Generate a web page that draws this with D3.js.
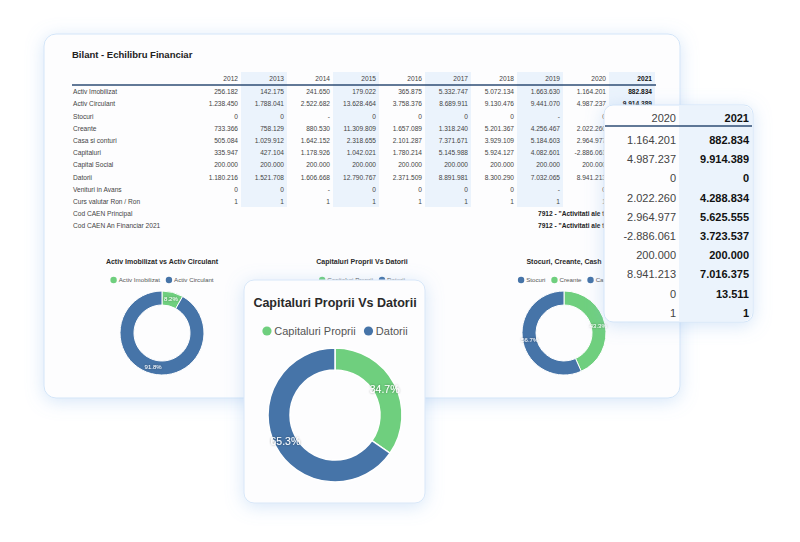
<!DOCTYPE html>
<html>
<head>
<meta charset="utf-8">
<script src="https://cdn.jsdelivr.net/npm/d3@7"></script>
<style>
html, body { margin: 0; padding: 0; background: #fff; }
svg { display: block; font-family: "Liberation Sans", Arial, sans-serif; }
</style>
</head>
<body>
<svg id="chart" width="800" height="542"></svg>
<script>
"use strict";

// == DATA ==
var years = ["2012", "2013", "2014", "2015", "2016", "2017", "2018", "2019", "2020", "2021"];
var rowLabels = ["Activ Imobilizat", "Activ Circulant", "Stocuri", "Creante", "Casa si conturi",
	"Capitaluri", "Capital Social", "Datorii", "Venituri in Avans", "Curs valutar Ron / Ron",
	"Cod CAEN Principal", "Cod CAEN An Financiar 2021"];
var activImobilizat = [256182, 142175, 241650, 179022, 365875, 5332747, 5072134, 1663630, 1164201, 882834];
var activCirculant = [1238450, 1788041, 2522682, 13628464, 3758376, 8689911, 9130476, 9441070, 4987237, 9914389];
var stocuri = [0, 0, null, 0, 0, 0, 0, null, 0, 0]; // null = "-"
var creante = [733366, 758129, 880530, 11309809, 1657089, 1318240, 5201367, 4256467, 2022260, 4288834];
var casaConturi = [505084, 1029912, 1642152, 2318655, 2101287, 7371671, 3929109, 5184603, 2964977, 5625555];
var capitaluri = [335947, 427104, 1178926, 1042021, 1780214, 5145988, 5924127, 4082601, -2886061, 3723537];
var capitalSocial = [200000, 200000, 200000, 200000, 200000, 200000, 200000, 200000, 200000, 200000];
var datorii = [1180216, 1521708, 1606668, 12790767, 2371509, 8891981, 8300290, 7032065, 8941213, 7016375];
var venituriAvans = [0, 0, null, 0, 0, 0, 0, null, 0, 13511];
var cursValutar = [1, 1, 1, 1, 1, 1, 1, 1, 1, 1];
var codCaen = '7912 - "Activitati ale t'; // cut off by the zoom card in the picture

var tableRows = [activImobilizat, activCirculant, stocuri, creante, casaConturi,
	capitaluri, capitalSocial, datorii, venituriAvans, cursValutar];

var green = "#6fcf7e", blue = "#4674a8";

var ro = d3.formatLocale({ decimal: ",", thousands: ".", grouping: [3], currency: ["", ""], minus: "-" });
var fmt = function (v) { return v === null ? "-" : ro.format(",d")(v); };

var svg = d3.select("#chart");
var defs = svg.append("defs");

// soft blue glow for the cards
var f = defs.append("filter").attr("id", "glow").attr("x", "-20%").attr("y", "-20%").attr("width", "140%").attr("height", "140%");
f.append("feDropShadow").attr("dx", 0).attr("dy", 3).attr("stdDeviation", 9)
	.attr("flood-color", "#7fb0ea").attr("flood-opacity", 0.32);
var ts = defs.append("filter").attr("id", "tshadow");
ts.append("feDropShadow").attr("dx", 0).attr("dy", 0).attr("stdDeviation", 0.8)
	.attr("flood-color", "#000").attr("flood-opacity", 0.45);

// the zoom card on the right hides part of the main table
defs.append("clipPath").attr("id", "under-card").append("path")
	.attr("d", "M0,0 H800 V105 H604 V542 H0 Z");

// == MAIN CARD ==
svg.append("rect").attr("x", 44).attr("y", 34).attr("width", 636).attr("height", 364)
	.attr("rx", 12).attr("fill", "#fdfdfe").attr("stroke", "#d3e5f8").attr("filter", "url(#glow)");

svg.append("text").attr("x", 72).attr("y", 55).attr("dy", "0.35em")
	.attr("font-size", 9.5).attr("font-weight", "bold").attr("fill", "#222")
	.text("Bilant - Echilibru Financiar");

var x = d3.scaleBand().domain(years).range([195, 655]);
var y = d3.scalePoint().domain(rowLabels).range([92, 226]);

var table = svg.append("g").attr("font-size", 6.6).attr("fill", "#444")
	.attr("clip-path", "url(#under-card)");

// shaded columns
table.selectAll("rect.band")
	.data(years.filter(function (d, i) { return i % 2 === 1; }))
	.enter().append("rect")
	.attr("x", function (d) { return x(d); })
	.attr("y", 72).attr("width", x.bandwidth()).attr("height", 135)
	.attr("fill", "#ebf3fc");

table.selectAll("text.year").data(years).enter().append("text")
	.attr("x", function (d) { return x(d) + x.bandwidth() - 3; })
	.attr("y", 79).attr("dy", "0.35em").attr("text-anchor", "end")
	.attr("font-weight", function (d) { return d === "2021" ? "bold" : null; })
	.attr("fill", function (d) { return d === "2021" ? "#111" : "#444"; })
	.text(function (d) { return d; });

table.append("line").attr("x1", 72).attr("x2", 656).attr("y1", 85).attr("y2", 85)
	.attr("stroke", "#2e4d75").attr("stroke-width", 1.3);

table.selectAll("text.label").data(rowLabels).enter().append("text")
	.attr("x", 73).attr("y", function (d) { return y(d); }).attr("dy", "0.35em")
	.text(function (d) { return d; });

tableRows.forEach(function (row, r) {
	// rows below the card top only show up to the 2020 column
	var shown = r < 2 ? row : row.slice(0, 9);
	table.selectAll(null).data(shown).enter().append("text")
		.attr("x", function (d, i) { return x(years[i]) + x.bandwidth() - 3; })
		.attr("y", y(rowLabels[r])).attr("dy", "0.35em").attr("text-anchor", "end")
		.attr("font-weight", function (d, i) { return i === 9 ? "bold" : null; })
		.attr("fill", function (d, i) { return i === 9 ? "#111" : "#444"; })
		.text(fmt);
});

[10, 11].forEach(function (r) {
	table.append("text").attr("x", 538).attr("y", y(rowLabels[r])).attr("dy", "0.35em")
		.attr("font-weight", "bold").attr("fill", "#222").text(codCaen);
});

// == DONUTS ==
function donut(g, cx, cy, rOut, rIn, items, o) {
	var total = d3.sum(items, function (d) { return d.value; });
	var pie = d3.pie().sort(null).value(function (d) { return d.value; });
	var arc = d3.arc().innerRadius(rIn).outerRadius(rOut);
	var arcs = pie(items);

	g.append("text").attr("x", cx).attr("y", o.titleY).attr("dy", "0.35em")
		.attr("text-anchor", "middle").attr("font-size", o.titleSize).attr("font-weight", "bold")
		.attr("fill", "#2a2a2a").text(o.title);

	// legend, centred
	var leg = g.append("g");
	var xx = 0;
	items.forEach(function (d) {
		leg.append("circle").attr("cx", xx + o.dot).attr("cy", o.legY).attr("r", o.dot).attr("fill", d.color);
		var t = leg.append("text").attr("x", xx + o.dot * 2 + o.dot * 0.6).attr("y", o.legY).attr("dy", "0.35em")
			.attr("font-size", o.legSize).attr("fill", "#555").text(d.label);
		xx += o.dot * 2.6 + t.node().getComputedTextLength() + o.dot * 1.8;
	});
	leg.attr("transform", "translate(" + (cx - (xx - o.dot * 1.8) / 2) + ",0)");

	var p = g.append("g").attr("transform", "translate(" + cx + "," + cy + ")");
	p.selectAll("path").data(arcs).enter().append("path")
		.attr("d", arc).attr("fill", function (d) { return d.data.color; })
		.attr("stroke", "#fff").attr("stroke-width", o.sw);
	p.selectAll("text").data(arcs.filter(function (d) { return d.data.value > 0; }))
		.enter().append("text")
		.attr("transform", function (d) { return "translate(" + arc.centroid(d) + ")"; })
		.attr("dy", "0.35em").attr("text-anchor", "middle")
		.attr("font-size", o.lblSize).attr("fill", "#fff").attr("filter", "url(#tshadow)")
		.text(function (d) { return (d.data.value / total * 100).toFixed(1) + "%"; });
}

var small = { titleSize: 7, legSize: 6.2, dot: 3.2, lblSize: 6, sw: 1, titleY: 262, legY: 280 };

donut(svg.append("g"), 162, 333, 42, 28, [
	{ label: "Activ Imobilizat", value: activImobilizat[9], color: green },
	{ label: "Activ Circulant", value: activCirculant[9], color: blue }
], Object.assign({ title: "Activ Imobilizat vs Activ Circulant" }, small));

donut(svg.append("g"), 362, 333, 42, 28, [
	{ label: "Capitaluri Proprii", value: capitaluri[9], color: green },
	{ label: "Datorii", value: datorii[9], color: blue }
], Object.assign({ title: "Capitaluri Proprii Vs Datorii" }, small));

donut(svg.append("g"), 564, 333, 42, 28, [
	{ label: "Stocuri", value: stocuri[9], color: blue },
	{ label: "Creante", value: creante[9], color: green },
	{ label: "Cash", value: casaConturi[9], color: blue }
], Object.assign({ title: "Stocuri, Creante, Cash" }, small));

// == RIGHT ZOOM CARD (2020 / 2021) ==
var rc = svg.append("g");
rc.append("rect").attr("x", 604).attr("y", 105).attr("width", 149).attr("height", 217)
	.attr("rx", 9).attr("fill", "#fdfdfe").attr("stroke", "#d3e5f8").attr("filter", "url(#glow)");
var zx = d3.scaleBand().domain(["2020", "2021"]).range([606, 752]);
var zy = d3.scalePoint().domain(rowLabels.slice(0, 10)).range([140, 313]);
rc.append("path")
	.attr("d", "M" + zx("2021") + ",106 H744 a8,8 0 0 1 8,8 V313 a8,8 0 0 1 -8,8 H" + zx("2021") + "Z")
	.attr("fill", "#ebf3fc");
rc.selectAll("text.yr").data(["2020", "2021"]).enter().append("text")
	.attr("x", function (d) { return zx(d) + zx.bandwidth() - 3; }).attr("y", 118).attr("dy", "0.35em")
	.attr("text-anchor", "end").attr("font-size", 11)
	.attr("font-weight", function (d) { return d === "2021" ? "bold" : null; })
	.attr("fill", function (d) { return d === "2021" ? "#111" : "#444"; })
	.text(function (d) { return d; });
rc.append("line").attr("x1", 605).attr("x2", 752).attr("y1", 126).attr("y2", 126)
	.attr("stroke", "#2e4d75").attr("stroke-width", 1.5);
tableRows.forEach(function (row, r) {
	[8, 9].forEach(function (i) {
		rc.append("text").attr("x", zx(years[i]) + zx.bandwidth() - 3).attr("y", zy(rowLabels[r]))
			.attr("dy", "0.35em").attr("text-anchor", "end").attr("font-size", 11)
			.attr("font-weight", i === 9 ? "bold" : null).attr("fill", i === 9 ? "#111" : "#444")
			.text(fmt(row[i]));
	});
});

// == BIG DONUT CARD ==
var bc = svg.append("g");
bc.append("rect").attr("x", 244).attr("y", 280).attr("width", 181).attr("height", 223)
	.attr("rx", 10).attr("fill", "#fdfdfe").attr("stroke", "#d8e7f8").attr("filter", "url(#glow)");
donut(bc, 335, 415, 67, 45, [
	{ label: "Capitaluri Proprii", value: capitaluri[9], color: green },
	{ label: "Datorii", value: datorii[9], color: blue }
], { title: "Capitaluri Proprii Vs Datorii", titleSize: 12.5, titleY: 303, legY: 331, legSize: 11,
	dot: 4.6, lblSize: 10.5, sw: 1.5 });
</script>
</body>
</html>
